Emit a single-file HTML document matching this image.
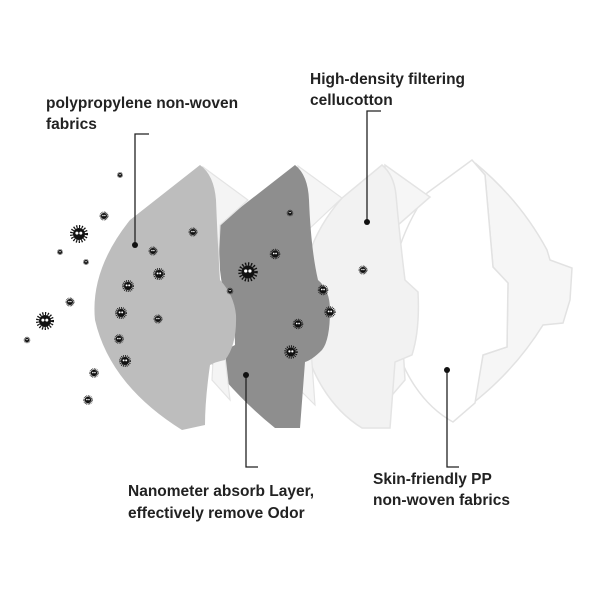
<!DOCTYPE html>
<html><head><style>
html,body{margin:0;padding:0;background:#fff}
body{width:600px;height:600px;overflow:hidden}
svg{display:block}
text{font-family:"Liberation Sans",sans-serif;font-weight:bold;font-size:15.5px;fill:#222}
</style></head><body>
<svg width="600" height="600" viewBox="0 0 600 600" xmlns="http://www.w3.org/2000/svg">
<defs>
<g id="p">
<circle r="1" fill="#111"/>
<circle r="1.25" fill="none" stroke="#111" stroke-width="0.5" stroke-dasharray="0.2 0.25"/>
<circle cx="-0.35" cy="-0.15" r="0.25" fill="#fff"/>
<circle cx="0.3" cy="-0.15" r="0.25" fill="#fff"/>
</g>
</defs>

<!-- Layer 4 back -->
<path d="M475,163 Q520,200 547,250 L550,260 L572,268 L570,300 L563,323 L543,325 Q515,370 473,403 L483,355 L507,347 L508,283 L493,267 L485,175 Z" fill="#f6f6f6" stroke="#e2e2e2" stroke-width="1.5"/>
<!-- Layer 4 front -->
<path d="M472,160 L485,175 L493,267 L508,283 L507,347 L483,355 L475,403 L453,422 C395,390 360,290 427,193 Z" fill="#fff" stroke="#e2e2e2" stroke-width="1.5"/>

<!-- Layer 3 -->
<path d="M385,165 L430,197 L398,225 Q400,300 405,380 L375,415 Z" fill="#f6f6f6" stroke="#e4e4e4" stroke-width="1.5"/>
<path d="M382,165 Q394,175 396,195 Q400,240 405,280 L418,292 Q420,330 412,355 L395,362 L390,428 L362,428 C300,390 270,280 342,198 Z" fill="#f2f2f2" stroke="#e4e4e4" stroke-width="1.5"/>

<!-- Layer 2 -->
<path d="M298,166 L342,198 L308,230 L300,390 L315,405 Z" fill="#f5f5f5" stroke="#e4e4e4" stroke-width="1.2"/>
<path d="M295,165 Q308,175 309,200 Q311,250 318,280 Q330,290 330,310 Q330,340 322,350 Q312,360 305,362 L300,428 L275,428 Q240,400 210,362 Q225,350 235,345 Q235,320 228,305 Q222,290 220,270 L218,225 Z" fill="#8e8e8e"/>

<!-- Layer 1 -->
<path d="M203,167 L248,200 L220,225 L212,380 L230,400 Z" fill="#f4f4f4" stroke="#e4e4e4" stroke-width="1.2"/>
<path d="M200,165 Q214,175 216,200 Q218,250 220,280 Q234,295 236,315 Q237,345 225,360 Q215,362 210,365 Q205,400 205,425 L182,430 Q110,385 95,320 Q90,270 130,220 Z" fill="#bdbdbd"/>

<!-- particles -->
<g>
<use href="#p" transform="translate(120,175) scale(2)"/>
<use href="#p" transform="translate(104,216) scale(3)"/>
<use href="#p" transform="translate(79,234) scale(6)"/>
<use href="#p" transform="translate(60,252) scale(2)"/>
<use href="#p" transform="translate(86,262) scale(2)"/>
<use href="#p" transform="translate(70,302) scale(3)"/>
<use href="#p" transform="translate(45,321) scale(6)"/>
<use href="#p" transform="translate(27,340) scale(2.2)"/>
<use href="#p" transform="translate(94,373) scale(3.2)"/>
<use href="#p" transform="translate(88,400) scale(3.2)"/>
<use href="#p" transform="translate(193,232) scale(3)"/>
<use href="#p" transform="translate(153,251) scale(3)"/>
<use href="#p" transform="translate(159,274) scale(4)"/>
<use href="#p" transform="translate(128,286) scale(4)"/>
<use href="#p" transform="translate(121,313) scale(4)"/>
<use href="#p" transform="translate(158,319) scale(3)"/>
<use href="#p" transform="translate(119,339) scale(3.2)"/>
<use href="#p" transform="translate(125,361) scale(4)"/>
<use href="#p" transform="translate(230,291) scale(2.2)"/>
<use href="#p" transform="translate(290,213) scale(2.2)"/>
<use href="#p" transform="translate(275,254) scale(3.5)"/>
<use href="#p" transform="translate(248,272) scale(6.5)"/>
<use href="#p" transform="translate(323,290) scale(3.5)"/>
<use href="#p" transform="translate(330,312) scale(3.8)"/>
<use href="#p" transform="translate(298,324) scale(3.5)"/>
<use href="#p" transform="translate(291,352) scale(4.5)"/>
<use href="#p" transform="translate(363,270) scale(3)"/>
</g>

<!-- leaders -->
<g stroke="#222" stroke-width="1.3" fill="none">
<path d="M149,134 H135 V245"/>
<path d="M381,111 H367 V222"/>
<path d="M246,375 V467 H258"/>
<path d="M447,370 V467 H459"/>
</g>
<g fill="#111">
<circle cx="135" cy="245" r="3"/>
<circle cx="367" cy="222" r="3"/>
<circle cx="246" cy="375" r="3"/>
<circle cx="447" cy="370" r="3"/>
</g>

<text x="46" y="108">polypropylene non-woven</text>
<text x="46" y="129">fabrics</text>
<text x="310" y="84">High-density filtering</text>
<text x="310" y="105">cellucotton</text>
<text x="128" y="496">Nanometer absorb Layer,</text>
<text x="128" y="518">effectively remove Odor</text>
<text x="373" y="484">Skin-friendly PP</text>
<text x="373" y="505">non-woven fabrics</text>
</svg>
</body></html>
